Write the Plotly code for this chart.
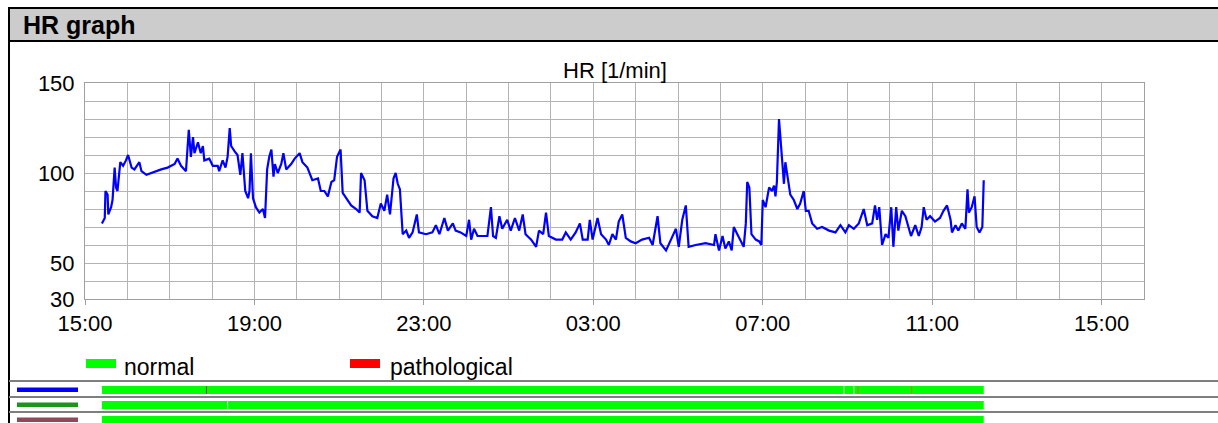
import plotly.graph_objects as go
from datetime import datetime, timedelta

# ---------------- data ----------------
minutes_since_1500 = [
    24, 28, 29, 32, 33, 37, 39, 42, 44, 46, 50, 54, 58, 61, 66, 70, 77, 80, 87, 94,
    98, 108, 117, 127, 131, 136, 143, 147, 150, 153, 155, 160, 164, 167, 169, 176, 181, 188, 190, 195,
    199, 202, 205, 207, 212, 216, 220, 223, 227, 231, 233, 235, 238, 242, 247, 252, 255, 258, 261, 264,
    267, 269, 273, 278, 281, 285, 292, 297, 304, 308, 315, 322, 330, 334, 339, 344, 349, 353, 357, 362,
    365, 370, 377, 384, 389, 391, 396, 400, 407, 414, 419, 424, 428, 432, 437,
    440, 443, 446, 450, 455, 459, 464, 470, 473, 483, 492, 497, 502, 509, 514, 521, 525, 532, 540, 544,
    547, 551, 556, 563, 570, 575, 578, 582, 587, 591, 598, 603, 609, 615, 620, 624, 632, 639, 643, 649,
    653, 657, 667, 676, 681, 688, 695, 701, 705, 712, 715, 719, 726, 731, 738, 742, 747, 752, 756, 761,
    766, 773, 780, 789, 799, 804, 811, 815, 823, 830, 837, 841, 846, 851, 855,
    865, 879, 891, 893, 898, 903, 907, 912, 916, 919, 924, 929, 933, 936, 938, 941, 944, 950, 955, 958,
    960, 964, 969, 973, 976, 978, 980, 983, 987, 990, 992, 996, 999, 1004, 1009, 1013, 1018, 1021, 1025, 1030,
    1037, 1044, 1054, 1063, 1070, 1077, 1082, 1089, 1096, 1103, 1108, 1115, 1119, 1122, 1125, 1129, 1134, 1138, 1142, 1145,
    1149, 1152, 1157, 1162, 1166, 1170, 1176, 1181, 1185, 1188, 1192, 1197, 1204, 1211, 1216, 1221, 1226, 1228, 1233, 1237,
    1242, 1247, 1250, 1252, 1256, 1260, 1263, 1267, 1271, 1273,
]
hr_values = [
    72, 75, 90, 88, 77, 81, 85, 103, 92, 90, 106, 104, 107, 110, 103, 102, 106, 101, 99, 100,
    101, 102, 103, 105, 108, 104, 101, 124, 109, 120, 111, 117, 111, 115, 107, 108, 104, 104, 101, 107,
    103, 109, 125, 115, 112, 110, 99, 111, 90, 86, 90, 111, 86, 81, 78, 80, 75, 102, 109, 113,
    98, 105, 100, 105, 111, 102, 105, 108, 111, 106, 103, 96, 97, 90, 90, 87, 95, 96, 109, 113,
    89, 86, 82, 80, 78, 100, 96, 79, 76, 75, 83, 79, 88, 77, 97,
    100, 94, 91, 66, 68, 64, 67, 77, 67, 66, 67, 71, 66, 75, 68, 72, 68, 67, 65, 74,
    63, 69, 65, 65, 65, 81, 65, 64, 76, 69, 74, 68, 75, 68, 77, 66, 63, 59, 68, 66,
    78, 65, 63, 63, 67, 63, 67, 72, 63, 63, 74, 63, 75, 66, 63, 60, 66, 63, 73, 77,
    64, 62, 61, 63, 64, 60, 76, 61, 57, 63, 69, 59, 74, 82, 59,
    60, 61, 60, 66, 57, 65, 58, 62, 57, 70, 66, 62, 59, 72, 95, 92, 66, 63, 62, 60,
    85, 81, 92, 90, 93, 87, 95, 130, 107, 94, 106, 96, 88, 85, 80, 83, 90, 79, 79, 72,
    69, 70, 68, 67, 71, 67, 71, 69, 72, 80, 71, 72, 82, 74, 81, 60, 66, 64, 81, 59,
    81, 68, 79, 76, 70, 65, 71, 65, 70, 81, 74, 76, 73, 75, 79, 82, 74, 67, 71, 68,
    72, 69, 91, 78, 81, 87, 70, 67, 70, 96,
]

y_tick_values = [30, 40, 50, 60, 70, 80, 90, 100, 110, 120, 130, 140, 150]
y_tick_labels = ["30", "", "50", "", "", "", "", "100", "", "", "", "", "150"]

legend_labels = ["normal", "pathological"]
legend_colors = ["#00ff00", "#ff0000"]

# status-row segment marks (minutes since 15:00)
row1_dark_marks = [172]
row1_orange_marks = [1095, 1171]
row1_gaps = [1075, 1089]
row2_gaps = [202]

row_swatch_colors = ["#0000ff", "#1a961a", "#8c4b5a"]

BASE = datetime(2024, 1, 1, 15, 0)
times = [BASE + timedelta(minutes=m) for m in minutes_since_1500]

# ---------------- layout helpers ----------------
W, H = 1218, 423
ML, MR, MT, MB = 85, 74, 83, 124
PW, PH = W - ML - MR, H - MT - MB


def px(x):
    return (x - ML) / PW


def py(y):
    return (H - MB - y) / PH


FONT = "Liberation Sans, Arial, sans-serif"
GRID = "#b4b4b4"

fig = go.Figure()
fig.add_trace(go.Scatter(
    x=times, y=hr_values, mode="lines",
    line=dict(color="#0000ff", width=2.2),
    hoverinfo="x+y", showlegend=False,
))

shapes = []
# header bar
shapes.append(dict(type="rect", xref="paper", yref="paper",
                   x0=px(9), x1=px(1225), y0=py(41), y1=py(8),
                   fillcolor="#cccccc", line=dict(color="black", width=2), layer="above"))
# left frame
shapes.append(dict(type="line", xref="paper", yref="paper",
                   x0=px(9), x1=px(9), y0=py(8), y1=py(430),
                   line=dict(color="black", width=2)))
# separators of status rows
for yy in [381, 397, 412]:
    shapes.append(dict(type="line", xref="paper", yref="paper",
                       x0=px(9), x1=px(1225), y0=py(yy), y1=py(yy),
                       line=dict(color="#7f7f7f", width=2)))
# legend swatches
for lx, col in zip([86, 350], legend_colors):
    shapes.append(dict(type="rect", xref="paper", yref="paper",
                       x0=px(lx), x1=px(lx + 30), y0=py(368), y1=py(359),
                       fillcolor=col, line=dict(width=0)))
# status rows: swatches and bars
row_tops = [386, 401, 416]
for top, col in zip(row_tops, row_swatch_colors):
    shapes.append(dict(type="rect", xref="paper", yref="paper",
                       x0=px(17), x1=px(78), y0=py(top + 6), y1=py(top + 1.5),
                       fillcolor=col, line=dict(width=0)))
    shapes.append(dict(type="rect", xref="x", yref="paper",
                       x0=times[0], x1=times[-1], y0=py(top + 8), y1=py(top),
                       fillcolor="#00ff00", line=dict(width=0)))


def mark(m, top, col):
    t = BASE + timedelta(minutes=m)
    shapes.append(dict(type="line", xref="x", yref="paper",
                       x0=t, x1=t, y0=py(top + 8), y1=py(top),
                       line=dict(color=col, width=1)))


for m in row1_dark_marks:
    mark(m, row_tops[0], "#b03a1a")
for m in row1_orange_marks:
    mark(m, row_tops[0], "#c07a10")
for m in row1_gaps:
    mark(m, row_tops[0], "#d8ffd8")
for m in row2_gaps:
    mark(m, row_tops[1], "#e0ffe0")

annotations = [
    dict(text="<b>HR graph</b>", xref="paper", yref="paper", x=px(21), y=py(25),
         xanchor="left", yanchor="middle", showarrow=False,
         font=dict(family=FONT, size=25, color="black")),
    dict(text="HR [1/min]", xref="paper", yref="paper", x=0.5, y=py(70),
         xanchor="center", yanchor="middle", showarrow=False,
         font=dict(family=FONT, size=22, color="black")),
]
for lx, lab in zip([122, 388], legend_labels):
    annotations.append(dict(text=lab, xref="paper", yref="paper", x=px(lx), y=py(367),
                            xanchor="left", yanchor="middle", showarrow=False,
                            font=dict(family=FONT, size=23, color="black")))

fig.update_layout(
    width=W, height=H,
    margin=dict(l=ML, r=MR, t=MT, b=MB, pad=0),
    paper_bgcolor="white", plot_bgcolor="white",
    font=dict(family=FONT, size=22, color="black"),
    shapes=shapes, annotations=annotations,
    showlegend=False,
    xaxis=dict(
        type="date",
        range=[BASE, BASE + timedelta(hours=25)],
        tick0=BASE, dtick=4 * 3600 * 1000, tickformat="%H:%M",
        showgrid=True, gridcolor=GRID, gridwidth=1,
        minor=dict(dtick=3600 * 1000, showgrid=True, gridcolor=GRID, gridwidth=1, ticks=""),
        ticks="outside", ticklen=5, tickcolor="#a0a0a0",
        showline=True, linecolor="#a0a0a0", linewidth=1, mirror=True,
        zeroline=False, fixedrange=True,
        tickfont=dict(family=FONT, size=22, color="black"),
    ),
    yaxis=dict(
        range=[30, 150],
        tickmode="array", tickvals=y_tick_values, ticktext=y_tick_labels,
        showgrid=True, gridcolor=GRID, gridwidth=1,
        ticks="", ticklabelstandoff=5,
        showline=True, linecolor="#a0a0a0", linewidth=1, mirror=True,
        zeroline=False, fixedrange=True,
        tickfont=dict(family=FONT, size=22, color="black"),
    ),
)

fig.write_html(
    "out.html",
    config={"displayModeBar": False},
    post_script="document.body.style.margin='0';document.body.style.overflow='hidden';",
)
